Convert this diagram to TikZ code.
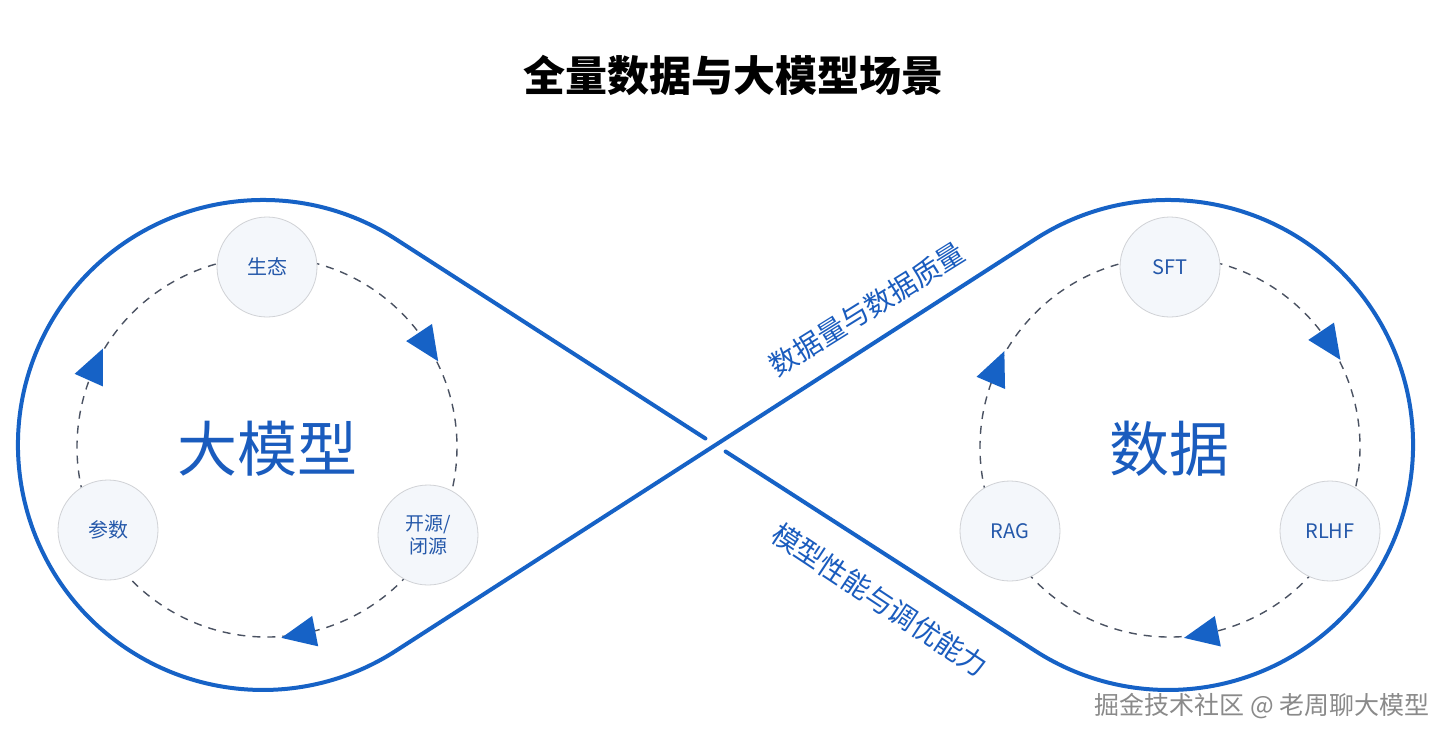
\documentclass[tikz,border=0pt]{standalone}
\usepackage{fontspec}
\setmainfont{Noto Sans CJK SC}
\usetikzlibrary{calc,decorations.markings}
\definecolor{loopblue}{RGB}{22,98,198}
\definecolor{textblue}{RGB}{26,92,190}
\definecolor{labelblue}{RGB}{36,88,170}
\definecolor{dashgray}{RGB}{74,82,98}
\definecolor{cfill}{RGB}{244,247,251}
\definecolor{cborder}{RGB}{208,210,214}
\definecolor{wmgray}{RGB}{138,138,138}
\begin{document}
\begin{tikzpicture}[x=1pt,y=-1pt,
  loopline/.style={line width=4pt, draw=loopblue, line cap=round, line join=round},
  cyc/.style={draw=dashgray, line width=1.4pt, dash pattern=on 8pt off 7pt},
  arrowmark/.style={postaction={decorate}, decoration={markings,
      mark=at position #1 with {\fill[loopblue] (23pt,0pt) -- (-11.5pt,15.5pt) -- (-11.5pt,-15.5pt) -- cycle;}}},
  bubble/.style={circle, minimum size=100pt, inner sep=0pt, fill=cfill, draw=cborder, line width=0.8pt,
      text=labelblue, font=\fontsize{20}{23}\selectfont, align=center},
  bigtext/.style={text=textblue, font=\fontsize{60}{66}\selectfont},
  linelabel/.style={text=textblue, font=\fontsize{28}{32}\selectfont},
]
\useasboundingbox (0,0) rectangle (1451,740);
\fill[white] (0,0) rectangle (1451,740);

% title
\node[font=\fontsize{42}{48}\selectfont\bfseries] (title) at (733,75) {全量数据与大模型场景};

% outer figure-eight loop
\coordinate (L) at (263,445);
\coordinate (R) at (1168,445);
\coordinate (X) at (715.5,445);
\coordinate (T1) at (395.6,239.0);
\coordinate (T2) at (395.6,651.0);
\coordinate (T3) at (1035.4,239.0);
\coordinate (T4) at (1035.4,651.0);
\draw[loopline] ($(X)!12pt!(T1)$) -- (T1)
   arc[start angle=-57.22, end angle=-302.78, radius=245] -- (T3)
   arc[start angle=-122.78, end angle=122.78, radius=245] -- ($(X)!12pt!(T4)$);

% labels along the crossing lines
\node[linelabel, rotate=32] (qty) at (867,309) {数据量与数据质量};
\node[linelabel, rotate=-33.5] (perf) at (880,600) {模型性能与调优能力};

% left cycle
\coordinate (C1) at (267,447);
\draw[cyc, arrowmark=0.476] ($(C1)+(-90:190)$) arc[start angle=-90, end angle=28.7, radius=190];
\draw[cyc, arrowmark=0.405] ($(C1)+(28.7:190)$) arc[start angle=28.7, end angle=152.4, radius=190];
\draw[cyc, arrowmark=0.439] ($(C1)+(152.4:190)$) arc[start angle=152.4, end angle=270, radius=190];
\node[bubble] (eco) at (267,267) {生态};
\node[bubble] (param) at (108,530) {参数};
\node[bubble, font=\fontsize{19}{23}\selectfont] (open) at (428,535) {开源/\\闭源};
\node[bigtext] (llm) at (267,449) {大模型};

% right cycle
\coordinate (C2) at (1170,447);
\draw[cyc, arrowmark=0.476] ($(C2)+(-90:190)$) arc[start angle=-90, end angle=27.7, radius=190];
\draw[cyc, arrowmark=0.411] ($(C2)+(27.7:190)$) arc[start angle=27.7, end angle=152.3, radius=190];
\draw[cyc, arrowmark=0.432] ($(C2)+(152.3:190)$) arc[start angle=152.3, end angle=270, radius=190];
\node[bubble] (sft) at (1170,267) {SFT};
\node[bubble] (rag) at (1010,531) {RAG};
\node[bubble] (rlhf) at (1330,531) {RLHF};
\node[bigtext] (data) at (1169,449) {数据};

% watermark
\node[text=wmgray, font=\fontsize{25}{28}\selectfont] (wm) at (1262,706) {掘金技术社区 @ 老周聊大模型};
\end{tikzpicture}
\end{document}
